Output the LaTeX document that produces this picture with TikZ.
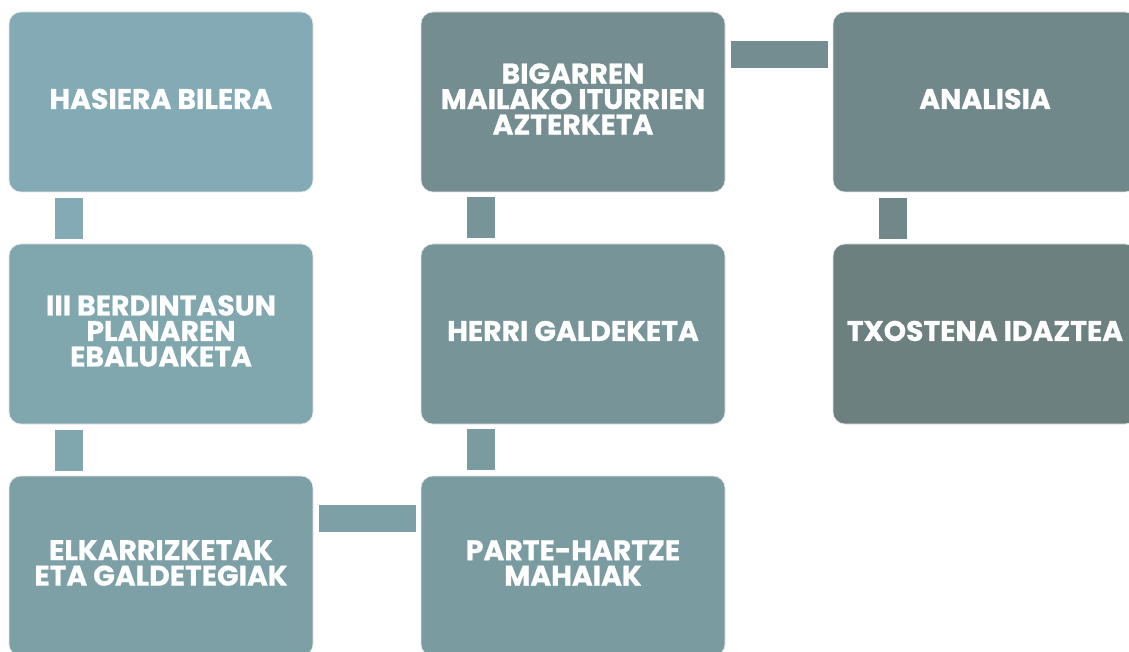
\documentclass[tikz,border=0pt]{standalone}
\usepackage{fontspec}
\setmainfont{Poppins}[BoldFeatures={FakeBold=0.8}]
\definecolor{c1}{HTML}{84ABB5}
\definecolor{c2}{HTML}{80A6AE}
\definecolor{c3}{HTML}{7DA0A7}
\definecolor{c4}{HTML}{7A9CA1}
\definecolor{c5}{HTML}{779599}
\definecolor{c6}{HTML}{738D90}
\definecolor{c7}{HTML}{708889}
\definecolor{c8}{HTML}{6D8080}
\tikzset{
  box/.style={rectangle, rounded corners=12pt, minimum width=304pt, minimum height=180pt,
    draw=white!80!gray, line width=0.6pt, inner sep=0pt,
    label={[boxtext]center:#1}},
  boxtext/.style={text=white, align=center, yshift=3pt, inner sep=0pt,
    font=\fontsize{28.3}{25.5}\selectfont\bfseries},
  vconn/.style={line width=28pt, shorten <=6pt, shorten >=5pt},
  hconn/.style={line width=27pt, shorten <=6pt, shorten >=5pt},
}
\begin{document}
\begin{tikzpicture}[x=1pt,y=1pt]
\useasboundingbox (0,0) rectangle (1129,-652);
\clip (0,0) rectangle (1129,-652);
\node[box={HASIERA BILERA}, fill=c1] (b1) at (161,-102) {};
\node[box={III BERDINTASUN\\PLANAREN\\EBALUAKETA}, fill=c2] (b2) at (161,-334) {};
\node[box={ELKARRIZKETAK\\ETA GALDETEGIAK}, fill=c3] (b3) at (161,-566) {};
\node[box={PARTE-HARTZE\\MAHAIAK}, fill=c4] (b4) at (573,-566) {};
\node[box={HERRI GALDEKETA}, fill=c5] (b5) at (573,-334) {};
\node[box={BIGARREN\\MAILAKO ITURRIEN\\AZTERKETA}, fill=c6] (b6) at (573,-102) {};
\node[box={ANALISIA}, fill=c7] (b7) at (985,-102) {};
\node[box={TXOSTENA IDAZTEA}, fill=c8] (b8) at (985,-334) {};
\draw[vconn, c1] ([xshift=60pt]b1.south west) -- ([xshift=60pt]b2.north west);
\draw[vconn, c2] ([xshift=60pt]b2.south west) -- ([xshift=60pt]b3.north west);
\draw[hconn, c3] ([yshift=-43pt]b3.north east) -- ([yshift=-43pt]b4.north west);
\draw[vconn, c4] ([xshift=60pt]b4.north west) -- ([xshift=60pt]b5.south west);
\draw[vconn, c5] ([xshift=60pt]b5.north west) -- ([xshift=60pt]b6.south west);
\draw[hconn, c6] ([yshift=-43pt]b6.north east) -- ([yshift=-43pt]b7.north west);
\draw[vconn, c7] ([xshift=60pt]b7.south west) -- ([xshift=60pt]b8.north west);
\end{tikzpicture}
\end{document}
